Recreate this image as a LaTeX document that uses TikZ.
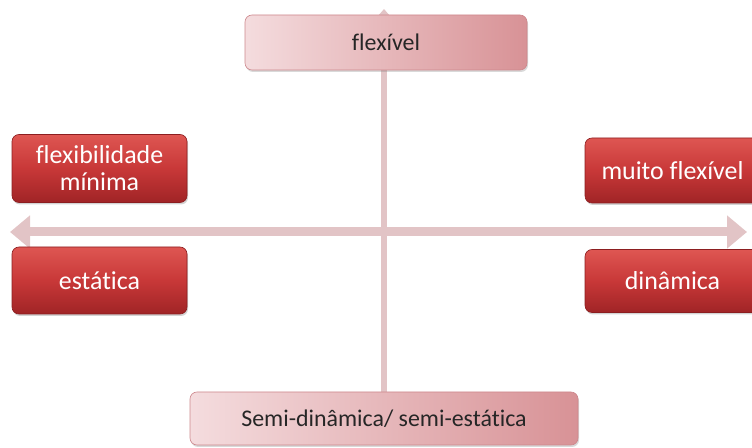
\documentclass[tikz,border=0pt]{standalone}
\usepackage{fontspec}
\setmainfont{Carlito}[Ligatures=NoCommon]
\usetikzlibrary{arrows.meta,shadows}
\definecolor{axiscol}{RGB}{226,196,198}
\definecolor{axisedge}{RGB}{196,150,154}
\definecolor{redtop}{RGB}{222,86,82}
\definecolor{redmid}{RGB}{200,56,56}
\definecolor{redbot}{RGB}{160,36,38}
\definecolor{rededge}{RGB}{140,30,32}
\definecolor{pinklight}{RGB}{244,220,222}
\definecolor{pinkdark}{RGB}{216,146,150}
\definecolor{pinkedge}{RGB}{205,135,140}
\begin{document}
\begin{tikzpicture}[x=1bp,y=1bp,
  redbox/.style={rectangle,rounded corners=7bp,draw=rededge,line width=0.6bp,
    top color=redtop,bottom color=redbot,middle color=redmid,
    text=white,font=\fontsize{26}{27}\selectfont,align=center,inner sep=0pt,
    drop shadow={shadow xshift=1bp,shadow yshift=-2bp,opacity=0.35}},
  pinkbox/.style={rectangle,rounded corners=7bp,draw=pinkedge,line width=0.6bp,
    left color=pinklight,right color=pinkdark,
    text=black!85,font=\fontsize{24}{26}\selectfont,inner sep=0pt,
    drop shadow={shadow xshift=1bp,shadow yshift=-2bp,opacity=0.3}},
  axis/.style={line width=9bp,draw=axiscol,
    {Triangle[width=32bp,length=20bp]}-{Triangle[width=32bp,length=20bp]}},
  vaxis/.style={line width=6bp,draw=axiscol,
    {Triangle[width=10bp,length=6bp]}-{Triangle[width=10bp,length=6bp]}},
]
\useasboundingbox (0bp,0bp) rectangle (752bp,448bp);
%%
  % Axis ends
  \coordinate (west) at (10bp,216bp);
  \coordinate (east) at (747bp,216bp);
  \coordinate (north) at (384bp,439bp);
  \coordinate (south) at (384bp,40bp);
  % Edge: south -> north
  \draw [vaxis] (south) -- (north);
  % Edge: west -> east
  \draw [axis] (west) -- (east);
  % Node: flex
  \node [pinkbox,minimum width=282bp,minimum height=55bp] (flex) at (386bp,405.5bp) {flexível};
  % Node: semi
  \node [pinkbox,minimum width=388bp,minimum height=53bp] (semi) at (384bp,29.5bp) {Semi-dinâmica/ semi-estática};
  % Node: minflex
  \node [redbox,minimum width=175bp,minimum height=68bp] (minflex) at (99.5bp,279.5bp) {flexibilidade\\mínima};
  % Node: estatica
  \node [redbox,minimum width=175bp,minimum height=67bp] (estatica) at (99.5bp,167.5bp) {estática};
  % Node: muitoflex
  \node [redbox,minimum width=175bp,minimum height=65bp] (muitoflex) at (672.5bp,277.5bp) {muito flexível};
  % Node: dinamica
  \node [redbox,minimum width=175bp,minimum height=63bp] (dinamica) at (672.5bp,167bp) {dinâmica};
%
\end{tikzpicture}
\end{document}
